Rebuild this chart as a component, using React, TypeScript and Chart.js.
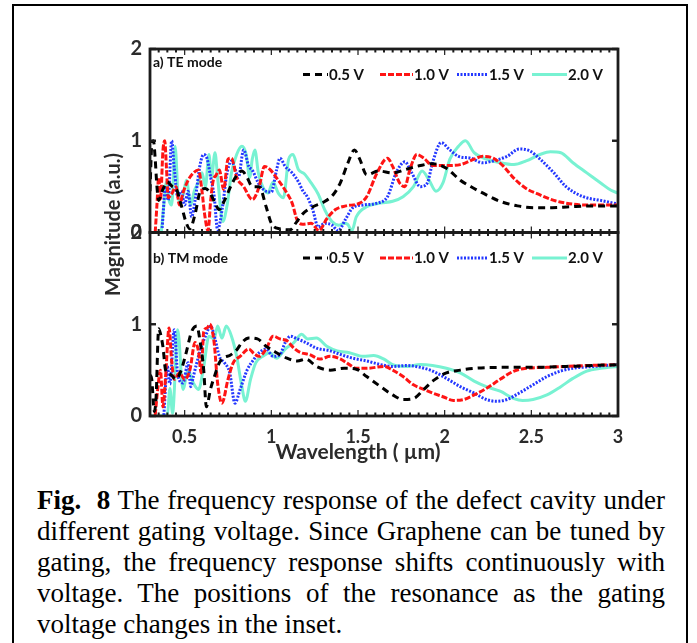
import React, { useEffect, useRef } from "react";
import { Chart, registerables } from "chart.js";

Chart.register(...registerables);

// ---------- data ----------
const VOLTAGES = ["0.5 V", "1.0 V", "1.5 V", "2.0 V"];
const PANEL_LABELS = ["a) TE mode", "b) TM mode"];
const X_TICKS = [0.5, 1, 1.5, 2, 2.5, 3];
const Y_TICKS = [0, 1, 2];

// TE mode (top panel)
const TE_05_X = [0.30, 0.31, 0.32, 0.33, 0.34, 0.35, 0.37, 0.40, 0.43, 0.45, 0.48, 0.51, 0.53, 0.56, 0.59, 0.62, 0.65, 0.68, 0.70, 0.73, 0.77, 0.80, 0.83, 0.86, 0.89, 0.93, 0.97, 1.00, 1.05, 1.11, 1.14, 1.18, 1.24, 1.30, 1.36, 1.40, 1.44, 1.48, 1.51, 1.55, 1.62, 1.70, 1.78, 1.86, 1.93, 2.01, 2.09, 2.17, 2.24, 2.32, 2.42, 2.52, 2.62, 2.72, 2.85, 3.00];
const TE_05_Y = [0.45, 0.95, 1.00, 0.80, 0.50, 0.35, 0.45, 0.55, 0.50, 0.48, 0.30, 0.10, 0.04, 0.20, 0.45, 0.48, 0.42, 0.30, 0.25, 0.35, 0.52, 0.62, 0.67, 0.60, 0.50, 0.50, 0.28, 0.10, 0.04, 0.03, 0.10, 0.20, 0.28, 0.33, 0.42, 0.55, 0.75, 0.90, 0.80, 0.63, 0.67, 0.65, 0.69, 0.73, 0.75, 0.70, 0.57, 0.48, 0.41, 0.34, 0.29, 0.27, 0.27, 0.28, 0.29, 0.29];

const TE_10_X = [0.33, 0.34, 0.35, 0.36, 0.375, 0.385, 0.395, 0.405, 0.425, 0.45, 0.47, 0.49, 0.52, 0.55, 0.58, 0.60, 0.615, 0.635, 0.65, 0.665, 0.68, 0.70, 0.725, 0.75, 0.77, 0.80, 0.84, 0.89, 0.93, 0.96, 0.99, 1.04, 1.08, 1.12, 1.15, 1.18, 1.23, 1.275, 1.32, 1.37, 1.43, 1.51, 1.55, 1.61, 1.67, 1.70, 1.74, 1.77, 1.80, 1.84, 1.88, 1.93, 2.01, 2.09, 2.17, 2.22, 2.28, 2.34, 2.40, 2.47, 2.55, 2.63, 2.70, 2.80, 2.90, 3.00];
const TE_10_Y = [0.00, 0.30, 0.60, 0.35, 0.90, 1.00, 0.70, 0.38, 0.42, 0.50, 0.30, 0.43, 0.57, 0.65, 0.68, 0.45, 0.20, 0.02, 0.35, 0.57, 0.62, 0.68, 0.47, 0.80, 0.81, 0.60, 0.50, 0.36, 0.50, 0.72, 0.69, 0.57, 0.46, 0.32, 0.13, 0.09, 0.10, 0.02, 0.15, 0.25, 0.29, 0.32, 0.39, 0.65, 0.81, 0.72, 0.54, 0.50, 0.69, 0.85, 0.81, 0.73, 0.73, 0.74, 0.80, 0.83, 0.81, 0.72, 0.59, 0.48, 0.41, 0.35, 0.32, 0.30, 0.30, 0.30];

const TE_15_X = [0.37, 0.39, 0.405, 0.425, 0.44, 0.46, 0.48, 0.50, 0.52, 0.54, 0.56, 0.59, 0.61, 0.63, 0.65, 0.67, 0.69, 0.72, 0.74, 0.77, 0.79, 0.81, 0.84, 0.87, 0.89, 0.925, 0.96, 1.00, 1.03, 1.05, 1.08, 1.12, 1.16, 1.18, 1.21, 1.24, 1.27, 1.31, 1.35, 1.385, 1.43, 1.47, 1.53, 1.61, 1.67, 1.72, 1.77, 1.81, 1.86, 1.90, 1.93, 1.98, 2.03, 2.08, 2.15, 2.22, 2.28, 2.36, 2.43, 2.49, 2.55, 2.63, 2.70, 2.80, 2.90, 3.00];
const TE_15_Y = [0.05, 0.50, 0.35, 1.00, 0.70, 0.39, 0.45, 0.30, 0.45, 0.17, 0.35, 0.75, 0.85, 0.80, 0.60, 0.40, 0.03, 0.30, 0.60, 0.78, 0.70, 0.60, 0.90, 0.72, 0.68, 0.54, 0.46, 0.44, 0.68, 0.81, 0.72, 0.65, 0.54, 0.46, 0.38, 0.24, 0.06, 0.10, 0.08, 0.02, 0.15, 0.27, 0.30, 0.32, 0.39, 0.65, 0.77, 0.65, 0.50, 0.54, 0.76, 0.98, 0.90, 0.83, 0.81, 0.76, 0.78, 0.83, 0.91, 0.89, 0.80, 0.65, 0.50, 0.39, 0.35, 0.31];

const TE_20_X = [0.365, 0.38, 0.395, 0.41, 0.425, 0.445, 0.465, 0.49, 0.51, 0.535, 0.555, 0.58, 0.60, 0.62, 0.64, 0.655, 0.675, 0.69, 0.72, 0.745, 0.77, 0.80, 0.83, 0.855, 0.875, 0.89, 0.905, 0.925, 0.95, 0.98, 1.01, 1.04, 1.07, 1.10, 1.125, 1.155, 1.19, 1.23, 1.27, 1.31, 1.35, 1.39, 1.42, 1.44, 1.465, 1.49, 1.55, 1.63, 1.70, 1.76, 1.82, 1.87, 1.91, 1.95, 1.99, 2.03, 2.08, 2.12, 2.17, 2.24, 2.32, 2.40, 2.47, 2.55, 2.61, 2.67, 2.74, 2.82, 2.90, 2.96, 3.00];
const TE_20_Y = [0.00, 0.30, 0.55, 0.35, 0.30, 0.94, 0.35, 0.40, 0.57, 0.30, 0.45, 0.55, 0.65, 0.50, 0.85, 0.60, 0.87, 0.60, 0.12, 0.30, 0.65, 0.85, 0.94, 0.85, 0.60, 0.80, 0.90, 0.65, 0.50, 0.43, 0.55, 0.43, 0.38, 0.80, 0.85, 0.69, 0.64, 0.54, 0.42, 0.24, 0.12, 0.08, 0.10, 0.09, 0.02, 0.17, 0.28, 0.32, 0.34, 0.39, 0.50, 0.67, 0.57, 0.45, 0.54, 0.80, 0.94, 1.00, 0.87, 0.80, 0.76, 0.74, 0.78, 0.85, 0.88, 0.87, 0.76, 0.65, 0.54, 0.46, 0.43];

// TM mode (bottom panel)
const TM_05_X = [0.30, 0.31, 0.325, 0.335, 0.35, 0.36, 0.375, 0.39, 0.42, 0.45, 0.48, 0.51, 0.54, 0.57, 0.59, 0.61, 0.625, 0.65, 0.675, 0.70, 0.73, 0.76, 0.80, 0.83, 0.87, 0.92, 0.97, 1.03, 1.09, 1.15, 1.20, 1.26, 1.34, 1.42, 1.49, 1.55, 1.63, 1.70, 1.76, 1.82, 1.88, 1.93, 2.01, 2.09, 2.17, 2.32, 2.51, 2.70, 2.85, 3.00];
const TM_05_Y = [0.45, 0.40, 0.05, 0.20, 0.95, 0.90, 0.75, 0.50, 0.45, 0.40, 0.50, 0.70, 0.92, 0.98, 0.80, 0.50, 0.10, 0.30, 0.45, 0.58, 0.64, 0.66, 0.72, 0.80, 0.85, 0.84, 0.76, 0.69, 0.63, 0.60, 0.62, 0.54, 0.50, 0.52, 0.51, 0.43, 0.32, 0.23, 0.18, 0.19, 0.29, 0.38, 0.47, 0.50, 0.52, 0.53, 0.53, 0.54, 0.55, 0.56];

const TM_10_X = [0.33, 0.345, 0.36, 0.375, 0.39, 0.41, 0.425, 0.44, 0.47, 0.50, 0.53, 0.56, 0.58, 0.595, 0.61, 0.63, 0.645, 0.67, 0.69, 0.715, 0.75, 0.78, 0.82, 0.87, 0.90, 0.93, 0.97, 1.01, 1.05, 1.09, 1.13, 1.17, 1.22, 1.28, 1.34, 1.40, 1.45, 1.49, 1.55, 1.65, 1.70, 1.76, 1.82, 1.88, 1.93, 1.99, 2.05, 2.11, 2.17, 2.24, 2.32, 2.40, 2.47, 2.59, 2.70, 2.82, 3.00];
const TM_10_Y = [0.01, 0.30, 0.50, 0.10, 0.43, 0.96, 0.60, 0.40, 0.47, 0.40, 0.50, 0.80, 0.70, 0.47, 0.92, 0.96, 1.00, 0.80, 0.36, 0.14, 0.40, 0.58, 0.65, 0.73, 0.68, 0.65, 0.73, 0.87, 0.84, 0.82, 0.74, 0.69, 0.67, 0.62, 0.65, 0.62, 0.56, 0.52, 0.52, 0.54, 0.50, 0.43, 0.34, 0.29, 0.25, 0.21, 0.17, 0.18, 0.23, 0.30, 0.40, 0.49, 0.52, 0.53, 0.54, 0.55, 0.56];

const TM_15_X = [0.38, 0.40, 0.415, 0.44, 0.46, 0.49, 0.52, 0.535, 0.55, 0.57, 0.595, 0.62, 0.65, 0.675, 0.70, 0.73, 0.76, 0.79, 0.82, 0.86, 0.90, 0.93, 0.97, 1.01, 1.05, 1.08, 1.11, 1.15, 1.20, 1.26, 1.34, 1.40, 1.47, 1.55, 1.63, 1.70, 1.78, 1.86, 1.93, 2.01, 2.09, 2.17, 2.24, 2.30, 2.36, 2.43, 2.51, 2.59, 2.67, 2.74, 2.86, 3.00];
const TM_15_Y = [0.01, 0.54, 0.35, 0.94, 0.45, 0.36, 0.58, 0.32, 0.43, 0.58, 0.75, 0.87, 0.98, 0.84, 0.65, 0.58, 0.47, 0.14, 0.29, 0.50, 0.62, 0.69, 0.73, 0.65, 0.67, 0.80, 0.87, 0.84, 0.80, 0.74, 0.71, 0.67, 0.63, 0.60, 0.56, 0.54, 0.55, 0.53, 0.49, 0.41, 0.32, 0.25, 0.18, 0.16, 0.18, 0.25, 0.34, 0.43, 0.49, 0.52, 0.54, 0.56];

const TM_20_X = [0.30, 0.36, 0.40, 0.415, 0.43, 0.46, 0.49, 0.52, 0.55, 0.58, 0.61, 0.64, 0.67, 0.69, 0.715, 0.74, 0.77, 0.80, 0.83, 0.85, 0.88, 0.91, 0.95, 0.99, 1.03, 1.08, 1.13, 1.175, 1.21, 1.26, 1.32, 1.38, 1.45, 1.53, 1.59, 1.65, 1.70, 1.78, 1.86, 1.93, 2.01, 2.09, 2.17, 2.24, 2.32, 2.40, 2.45, 2.51, 2.59, 2.67, 2.74, 2.82, 2.90, 3.00];
const TM_20_Y = [0.00, 0.00, 0.01, 0.30, 0.03, 0.94, 0.29, 0.50, 0.36, 0.29, 0.54, 0.87, 0.84, 0.98, 0.85, 0.98, 0.87, 0.65, 0.32, 0.16, 0.40, 0.58, 0.65, 0.69, 0.63, 0.73, 0.80, 0.89, 0.84, 0.85, 0.76, 0.71, 0.69, 0.65, 0.66, 0.62, 0.56, 0.54, 0.56, 0.55, 0.52, 0.47, 0.38, 0.32, 0.27, 0.19, 0.17, 0.18, 0.23, 0.32, 0.41, 0.49, 0.52, 0.54];

const TE_X = [TE_05_X, TE_10_X, TE_15_X, TE_20_X];
const TE_Y = [TE_05_Y, TE_10_Y, TE_15_Y, TE_20_Y];
const TM_X = [TM_05_X, TM_10_X, TM_15_X, TM_20_X];
const TM_Y = [TM_05_Y, TM_10_Y, TM_15_Y, TM_20_Y];

// ---------- styles ----------
const COLORS = ["#000000", "#ff1414", "#2438ff", "#78f2d2"];
const DASHES: number[][] = [[7, 5], [6, 2], [2, 1.5], []];
const LINE_W = 3;
const FONT = "Lato, 'Open Sans', sans-serif";
const TEXT = "#2b2b2b";

const CAPTION_LINES = [
  "The frequency response of the defect cavity under",
  "different gating voltage. Since Graphene can be tuned by",
  "gating, the frequency response shifts continuously with",
  "voltage. The positions of the resonance as the gating",
  "voltage changes in the inset.",
];

const toPts = (xs: number[], ys: number[]) => xs.map((x, i) => ({ x, y: ys[i] }));

const clipPlugin = {
  id: "panelClip",
  beforeDatasetDraw(chart: any, args: any) {
    const ys = chart.scales[args.meta.yAxisID];
    const ca = chart.chartArea;
    const ctx = chart.ctx;
    ctx.save();
    ctx.beginPath();
    ctx.rect(ca.left, ys.top, ca.right - ca.left, ys.bottom - ys.top);
    ctx.clip();
  },
  afterDatasetDraw(chart: any) {
    chart.ctx.restore();
  },
};

const decorPlugin = {
  id: "decor",
  afterDraw(chart: any) {
    const { ctx, chartArea: ca, scales } = chart;
    const xs = scales.x;
    const panels = [scales.yTE, scales.yTM];
    ctx.save();
    ctx.fillStyle = "#1c1c1c";
    ctx.strokeStyle = "#1c1c1c";
    // x ticks (minor every 0.05, major every 0.5)
    for (let i = 6; i <= 60; i++) {
      const px = xs.getPixelForValue(i * 0.05);
      const major = i % 10 === 0;
      for (const p of panels) {
        if (major) {
          ctx.fillRect(px - 0.6, p.bottom - 6, 1.2, 6);
          ctx.fillRect(px - 0.6, p.top, 1.2, 6);
        } else {
          ctx.fillRect(px - 1, p.bottom - 3.5, 2, 3.5);
          ctx.fillRect(px - 1, p.top, 2, 3.5);
        }
      }
    }
    // y ticks
    for (const p of panels) {
      for (const v of Y_TICKS) {
        const py = p.getPixelForValue(v);
        ctx.fillRect(ca.left, py - 1.2, 6, 2.4);
        ctx.fillRect(ca.right - 6, py - 1.2, 6, 2.4);
      }
    }
    // frames
    ctx.lineWidth = 2.8;
    for (const p of panels) {
      ctx.strokeRect(ca.left, p.top, ca.right - ca.left, p.bottom - p.top);
    }
    // panel labels and legends
    const ds = chart.data.datasets;
    const sampleX = [153, 230, 307, 382];
    const sampleW = [25, 33, 31, 35];
    panels.forEach((p: any, pi: number) => {
      const labelY = pi === 0 ? p.top + 13 : p.top + 25.5;
      const legY = p.top + 25.5;
      ctx.fillStyle = "#111";
      ctx.font = `bold 14px ${FONT}`;
      ctx.textAlign = "left";
      ctx.textBaseline = "middle";
      ctx.fillText(PANEL_LABELS[pi], ca.left + 3, labelY);
      const items = ds.filter((d: any) => d.yAxisID === p.id);
      items.forEach((d: any, k: number) => {
        const x0 = ca.left + sampleX[k];
        ctx.save();
        ctx.strokeStyle = d.borderColor;
        ctx.lineWidth = d.borderWidth;
        ctx.setLineDash(d.borderDash || []);
        ctx.beginPath();
        ctx.moveTo(x0, legY);
        ctx.lineTo(x0 + sampleW[k], legY);
        ctx.stroke();
        ctx.restore();
        ctx.fillStyle = "#111";
        ctx.font = `bold 15px ${FONT}`;
        ctx.fillText(d.legendText, x0 + sampleW[k] + 1, legY + 0.5);
      });
    });
    // axis titles
    ctx.fillStyle = TEXT;
    ctx.font = `bold 21px ${FONT}`;
    ctx.textAlign = "center";
    ctx.textBaseline = "middle";
    ctx.fillText("Wavelength ( \u00B5m)", ca.left + 208, ca.bottom + 36);
    ctx.font = `bold 20px ${FONT}`;
    ctx.save();
    ctx.translate(ca.left - 36, (ca.top + ca.bottom) / 2 - 8);
    ctx.rotate(-Math.PI / 2);
    ctx.fillText("Magnitude (a.u.)", 0, 0);
    ctx.restore();
    ctx.restore();
  },
};

function ChartView() {
  const ref = useRef<HTMLCanvasElement | null>(null);
  useEffect(() => {
    if (!ref.current) return;
    const datasets: any[] = [];
    TE_X.forEach((xs, i) =>
      datasets.push({
        label: "TE " + VOLTAGES[i],
        legendText: VOLTAGES[i],
        data: toPts(xs, TE_Y[i]),
        yAxisID: "yTE",
        borderColor: COLORS[i],
        borderDash: DASHES[i],
        borderWidth: LINE_W,
        pointRadius: 0,
        fill: false,
        cubicInterpolationMode: "monotone",
      })
    );
    TM_X.forEach((xs, i) =>
      datasets.push({
        label: "TM " + VOLTAGES[i],
        legendText: VOLTAGES[i],
        data: toPts(xs, TM_Y[i]),
        yAxisID: "yTM",
        borderColor: COLORS[i],
        borderDash: DASHES[i],
        borderWidth: LINE_W,
        pointRadius: 0,
        fill: false,
        cubicInterpolationMode: "monotone",
      })
    );
    const yAxis = () => ({
      type: "linear" as const,
      min: 0,
      max: 2,
      position: "left" as const,
      stack: "panels",
      stackWeight: 1,
      afterFit: (s: any) => {
        s.width = 40;
      },
      grid: { display: false, drawTicks: false },
      border: { display: false },
      ticks: {
        stepSize: 1,
        padding: 8,
        color: TEXT,
        font: { family: FONT, size: 20, weight: "bold" as const },
      },
    });
    const chart = new Chart(ref.current, {
      type: "line",
      data: { datasets },
      plugins: [clipPlugin, decorPlugin],
      options: {
        responsive: false,
        animation: false,
        devicePixelRatio: 1,
        layout: { padding: { left: 110, top: 49, right: 79, bottom: 14 } },
        plugins: { legend: { display: false }, tooltip: { enabled: false } },
        scales: {
          x: {
            type: "linear",
            min: 0.3,
            max: 3,
            position: "bottom",
            afterFit: (s: any) => {
              s.height = 40;
            },
            grid: { display: false, drawTicks: false },
            border: { display: false },
            ticks: {
              stepSize: 0.5,
              includeBounds: false,
              autoSkip: false,
              maxRotation: 0,
              padding: 10,
              color: TEXT,
              font: { family: FONT, size: 18, weight: "bold" },
              callback: (v: any) => (X_TICKS.includes(+v) ? String(+(+v).toFixed(2)) : ""),
            },
          },
          yTM: yAxis(),
          yTE: yAxis(),
        } as any,
      },
    });
    return () => chart.destroy();
  }, []);
  return (
    <canvas
      ref={ref}
      width={697}
      height={470}
      style={{ position: "absolute", left: 0, top: 0, width: 697, height: 470 }}
    />
  );
}

export default function App() {
  return (
    <div
      style={{
        position: "absolute",
        left: 0,
        top: 0,
        width: 697,
        height: 643,
        overflow: "hidden",
        background: "#fff",
      }}
    >
      <div
        style={{
          position: "absolute",
          left: 12,
          top: 4,
          width: 676,
          height: 660,
          boxSizing: "border-box",
          border: "2px solid #000",
        }}
      />
      <ChartView />
      <div
        style={{
          position: "absolute",
          left: 37,
          top: 485,
          width: 628,
          fontFamily: "'Liberation Serif', 'Times New Roman', serif",
          fontSize: 27,
          lineHeight: "31px",
          color: "#000",
        }}
      >
        {CAPTION_LINES.map((line, i) => (
          <div
            key={i}
            style={{
              textAlign: i < CAPTION_LINES.length - 1 ? "justify" : "left",
              textAlignLast: i < CAPTION_LINES.length - 1 ? "justify" : "left",
              whiteSpace: "nowrap",
            } as any}
          >
            {i === 0 ? (
              <>
                <b>Fig.</b>
                {"\u00A0\u00A0"}
                <b>8</b> {line}
              </>
            ) : (
              line
            )}
          </div>
        ))}
      </div>
    </div>
  );
}
